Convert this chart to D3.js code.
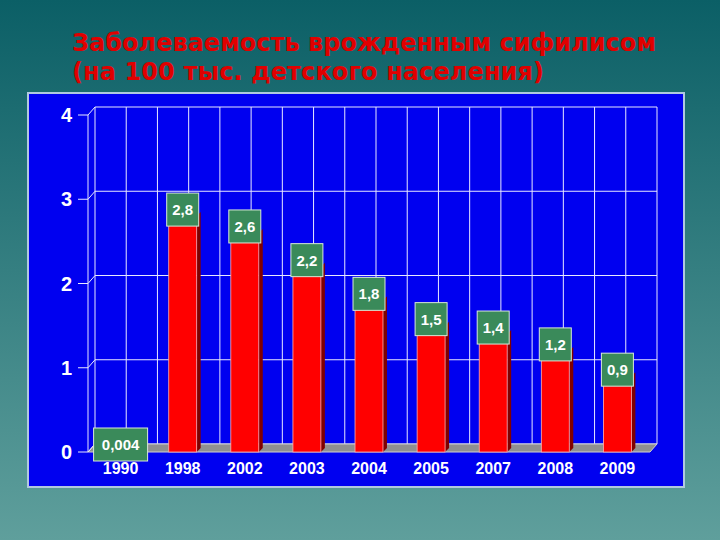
<!DOCTYPE html>
<html><head><meta charset="utf-8">
<script src="https://cdn.jsdelivr.net/npm/d3@7"></script>
<style>body{margin:0;}svg{display:block;}</style>
</head><body>
<script>
var years = ["1990", "1998", "2002", "2003", "2004", "2005", "2007", "2008", "2009"];
var values = [0.004, 2.8, 2.6, 2.2, 1.8, 1.5, 1.4, 1.2, 0.9];
var labels = ["0,004", "2,8", "2,6", "2,2", "1,8", "1,5", "1,4", "1,2", "0,9"];
var yTicks = [0, 1, 2, 3, 4];

var w = 720, h = 540;
var dx = 7, dy = 8; // depth offset of the 3d floor
var svg = d3.select("body").append("svg").attr("width", w).attr("height", h);

var defs = svg.append("defs");
var grad = defs.append("linearGradient").attr("id", "bg").attr("x1", 0).attr("y1", 0).attr("x2", 0).attr("y2", 1);
grad.append("stop").attr("offset", "0%").attr("stop-color", "#0b5f66");
grad.append("stop").attr("offset", "100%").attr("stop-color", "#5f9f9c");
svg.append("rect").attr("width", w).attr("height", h).attr("fill", "url(#bg)");

// title
svg.append("text").attr("x", 72).attr("y", 51).attr("fill", "#e00000")
   .style("font", "bold 24px 'DejaVu Sans', sans-serif").attr("textLength", 584).text("Заболеваемость врожденным сифилисом");
svg.append("text").attr("x", 72).attr("y", 80).attr("fill", "#e00000")
   .style("font", "bold 24px 'DejaVu Sans', sans-serif").attr("textLength", 472).text("(на 100 тыс. детского населения)");

// panel
svg.append("rect").attr("x", 28).attr("y", 93).attr("width", 656).attr("height", 394)
   .attr("fill", "#0000f0").attr("stroke", "#b0c8e0").attr("stroke-width", 2);

var x = d3.scaleBand().domain(years).range([88, 650]).paddingInner(0.55).paddingOuter(0.3);
var y = d3.scaleLinear().domain([0, 4]).range([452, 115]);
var x0 = 88, x1 = 650;

// back wall vertical grid
var gridX = d3.range(0, years.length * 2 + 1).map(function(i) { return x0 + dx + i * (x1 - x0) / (years.length * 2); });
svg.selectAll(".vg").data(gridX).enter().append("line")
   .attr("x1", function(d) { return d; }).attr("x2", function(d) { return d; })
   .attr("y1", y(4) - dy).attr("y2", y(0) - dy).attr("stroke", "#e8e8ff").attr("stroke-width", 1);
svg.selectAll(".hg").data(yTicks).enter().append("line")
   .attr("x1", x0 + dx).attr("x2", x1 + dx)
   .attr("y1", function(d) { return y(d) - dy; }).attr("y2", function(d) { return y(d) - dy; })
   .attr("stroke", "#e8e8ff");
svg.append("line").attr("x1", x0).attr("x2", x0).attr("y1", y(4)).attr("y2", y(0)).attr("stroke", "#e8e8ff");

// floor
svg.append("polygon")
   .attr("points", [[x0, y(0)], [x0 + dx, y(0) - dy], [x1 + dx, y(0) - dy], [x1, y(0)]].join(" "))
   .attr("fill", "#909090").attr("stroke", "#d0d0d0");

// bars
var bw = x.bandwidth();
var g = svg.selectAll(".bar").data(values).enter().append("g");
g.append("polygon").attr("fill", "#800000")
   .attr("points", function(d, i) {
     var a = x(years[i]) + bw, t = y(d);
     return [[a, t], [a + 4, t - 4], [a + 4, y(0) - 4], [a, y(0)]].join(" ");
   });
g.append("rect").attr("fill", "#ff0000").attr("stroke", "#ffb0b0").attr("stroke-width", 0.8)
   .attr("x", function(d, i) { return x(years[i]); }).attr("width", bw)
   .attr("y", function(d) { return y(d); }).attr("height", function(d) { return y(0) - y(d); });

// y axis
svg.selectAll(".yt").data(yTicks).enter().append("text")
   .attr("x", 72).attr("y", function(d) { return y(d) + 7; }).attr("text-anchor", "end")
   .attr("fill", "white").style("font", "bold 20px Arial, 'Liberation Sans', sans-serif")
   .text(function(d) { return d; });
svg.selectAll(".ytk").data(yTicks).enter().append("path")
   .attr("d", function(d) { return "M78," + y(d) + "H" + x0 + "l" + dx + "," + (-dy); })
   .attr("stroke", "#e8e8ff").attr("fill", "none");

// x labels
svg.selectAll(".xt").data(years).enter().append("text")
   .attr("x", function(d) { return x(d) + bw / 2; }).attr("y", 474).attr("text-anchor", "middle")
   .attr("fill", "white").style("font", "bold 16px Arial, 'Liberation Sans', sans-serif")
   .text(function(d) { return d; });

// value labels
var lab = svg.selectAll(".vl").data(values).enter().append("g")
   .attr("transform", function(d, i) {
     var cx = x(years[i]) + bw / 2;
     return "translate(" + cx + "," + (i === 0 ? 444 : y(d) - 7) + ")";
   });
lab.append("rect")
   .attr("x", function(d, i) { return i === 0 ? -27 : -16; }).attr("width", function(d, i) { return i === 0 ? 54 : 32; })
   .attr("y", -16).attr("height", 33)
   .attr("fill", "#3a8a5a").attr("stroke", "#d8e8d8").attr("stroke-width", 1);
lab.append("text").attr("text-anchor", "middle").attr("y", 6)
   .attr("fill", "white").style("font", "bold 15px Arial, 'Liberation Sans', sans-serif")
   .text(function(d, i) { return labels[i]; });
</script>
</body></html>
